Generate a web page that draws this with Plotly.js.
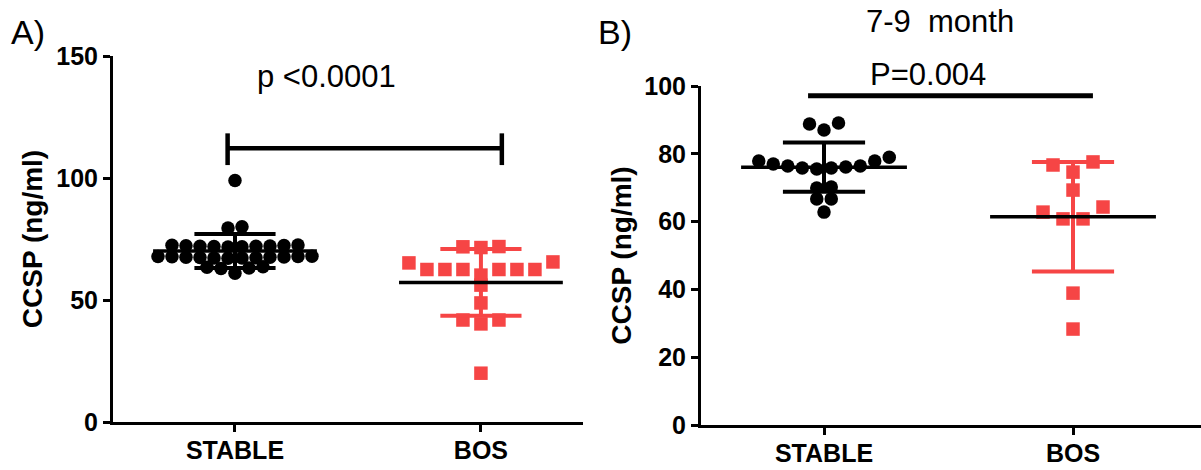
<!DOCTYPE html>
<html>
<head>
<meta charset="utf-8">
<script src="https://cdn.plot.ly/plotly-3.0.1.min.js"></script>
<style>html,body{margin:0;padding:0;background:#fff}#chart{width:1201px;height:470px}</style>
</head>
<body>
<div id="chart"></div>
<script>
// ---------------- data ----------------
const categories = ['STABLE', 'BOS'];
const yTicksA = [0, 50, 100, 150];
const yTicksB = [0, 20, 40, 60, 80, 100];

// Panel A: CCSP (ng/ml)
const stableA = [99, 80, 79.5,
  72.5, 72.0, 72.3, 71.8, 72.1, 72.4, 71.9, 72.2, 72.0, 71.7,
  67.8, 67.2, 67.5, 67.9, 67.4, 67.6, 67.1, 67.7, 67.3, 67.5, 67.8, 67.2,
  63.6, 63.4, 63.1, 62.9, 61.0];
const bosA = [71.9, 71.5, 71.8, 65.2, 62.5, 62.5, 62.5, 62.5, 62.5, 62.5, 60.2, 65.6,
  56.1, 48.8, 41.8, 40.2, 41.8, 20.0];

// Panel B: 7-9 month
const stableB = [88.8, 87.0, 89.1, 79.0, 75.8, 77.9, 76.4, 76.4, 75.5, 76.1, 75.8, 77.0, 77.9,
  69.9, 70.2, 66.7, 66.7, 62.8];
const bosB = [76.7, 74.6, 77.6, 69.3, 64.3, 62.8, 60.8, 60.8, 38.9, 28.3];

const pTextA = 'p <0.0001';
const pTextB = 'P=0.004';
const titleB = '7-9\u00a0 month';

// ---------------- geometry / style ----------------
const W = 1201, H = 470;
const geoA = {x0: 113, x1: 583, yTop: 56, yBot: 422, xr: [-0.496, 1.415], yr: [0, 150]};
const geoB = {x0: 701, x1: 1201, yTop: 86, yBot: 425, xr: [-0.494, 1.514], yr: [0, 100]};
const RED = '#f64545';
const FONT = 'Arial, "Liberation Sans", Helvetica, sans-serif';

function pxX(g) { return (g.x1 - g.x0) / (g.xr[1] - g.xr[0]); }
function pxY(g) { return (g.yBot - g.yTop) / (g.yr[1] - g.yr[0]); }

// Prism-like scatter: group values into rows (gap threshold in px), spread each row centred,
// lowest values in the middle, highest at the ends.
function scatterX(values, cat, g, spacing) {
  const py = pxY(g), px = pxX(g);
  const idx = values.map((v, i) => i).sort((a, b) => values[b] - values[a]);
  const rows = [];
  let cur = [];
  for (let k = 0; k < idx.length; k++) {
    if (k > 0 && (values[idx[k - 1]] - values[idx[k]]) * py > 8) { rows.push(cur); cur = []; }
    cur.push(idx[k]);
  }
  if (cur.length) rows.push(cur);
  const xs = new Array(values.length);
  rows.forEach(r => {
    const asc = r.slice().sort((a, b) => values[a] - values[b]);
    const n = asc.length;
    const slots = [];
    if (n % 2 === 1) { slots.push(0); for (let j = 1; slots.length < n; j++) { slots.push(-j); if (slots.length < n) slots.push(j); } }
    else { for (let j = 0; slots.length < n; j++) { slots.push(-(j + 0.5)); slots.push(j + 0.5); } }
    asc.forEach((i, k) => { xs[i] = cat + slots[k] * spacing / px; });
  });
  return xs;
}

function stats(v) {
  const m = v.reduce((a, b) => a + b, 0) / v.length;
  const sd = Math.sqrt(v.reduce((a, b) => a + (b - m) * (b - m), 0) / (v.length - 1));
  return {m, sd};
}

function pointsTrace(values, cat, g, spacing, symbol, color, xa, ya, name) {
  return {type: 'scatter', mode: 'markers', name: name, x: scatterX(values, cat, g, spacing), y: values,
    xaxis: xa, yaxis: ya, cliponaxis: false,
    marker: {symbol: symbol, size: 13.5, color: color, line: {width: 0}}, hoverinfo: 'y'};
}

function sdTrace(values, cat, color, xa, ya) {
  const s = stats(values), h = 0.165;
  const lo = s.m - s.sd, hi = s.m + s.sd;
  return {type: 'scatter', mode: 'lines', x: [cat, cat, null, cat - h, cat + h, null, cat - h, cat + h],
    y: [lo, hi, null, hi, hi, null, lo, lo], xaxis: xa, yaxis: ya, cliponaxis: false,
    line: {color: color, width: 4}, hoverinfo: 'skip'};
}

function meanTrace(values, cat, xa, ya) {
  const s = stats(values), h = 0.333;
  return {type: 'scatter', mode: 'lines', x: [cat - h, cat + h], y: [s.m, s.m], xaxis: xa, yaxis: ya,
    cliponaxis: false, line: {color: '#000', width: 3.5}, hoverinfo: 'skip'};
}

// significance brackets (annotation marks)
const bracketA = {x0: -0.03, x1: 1.085, y: 112.2, lo: 105.3, hi: 118.3};
const bracketB = {x0: -0.064, x1: 1.08, y: 97.1};

const traces = [
  pointsTrace(stableA, 0, geoA, 14, 'circle', '#000', 'x', 'y', 'STABLE'),
  pointsTrace(bosA, 1, geoA, 18, 'square', RED, 'x', 'y', 'BOS'),
  sdTrace(stableA, 0, '#000', 'x', 'y'),
  sdTrace(bosA, 1, RED, 'x', 'y'),
  meanTrace(stableA, 0, 'x', 'y'),
  meanTrace(bosA, 1, 'x', 'y'),
  {type: 'scatter', mode: 'lines', xaxis: 'x', yaxis: 'y', cliponaxis: false, hoverinfo: 'skip',
    x: [bracketA.x0, bracketA.x0, null, bracketA.x0, bracketA.x1, null, bracketA.x1, bracketA.x1],
    y: [bracketA.lo, bracketA.hi, null, bracketA.y, bracketA.y, null, bracketA.lo, bracketA.hi],
    line: {color: '#000', width: 4.5}},

  pointsTrace(stableB, 0, geoB, 14.5, 'circle', '#000', 'x2', 'y2', 'STABLE'),
  pointsTrace(bosB, 1, geoB, 20, 'square', RED, 'x2', 'y2', 'BOS'),
  sdTrace(stableB, 0, '#000', 'x2', 'y2'),
  sdTrace(bosB, 1, RED, 'x2', 'y2'),
  meanTrace(stableB, 0, 'x2', 'y2'),
  meanTrace(bosB, 1, 'x2', 'y2'),
  {type: 'scatter', mode: 'lines', xaxis: 'x2', yaxis: 'y2', cliponaxis: false, hoverinfo: 'skip',
    x: [bracketB.x0, bracketB.x1], y: [bracketB.y, bracketB.y], line: {color: '#000', width: 5}}
];

function xAxis(g, anchor) {
  return {domain: [g.x0 / W, g.x1 / W], range: g.xr, anchor: anchor, tickmode: 'array', tickvals: [0, 1],
    ticktext: categories, ticks: 'outside', ticklen: 7, tickwidth: 3, tickcolor: '#000',
    showline: true, linewidth: 3, linecolor: '#000', showgrid: false, zeroline: false,
    ticklabelstandoff: -3,
    tickfont: {family: FONT, size: 25, weight: 'bold', color: '#000'}, fixedrange: true};
}
function yAxis(g, anchor, ticks, standoff) {
  return {domain: [(H - g.yBot) / H, (H - g.yTop) / H], range: g.yr, anchor: anchor, tickmode: 'array',
    tickvals: ticks, ticks: 'outside', ticklen: 7, tickwidth: 3, tickcolor: '#000',
    showline: true, linewidth: 3, linecolor: '#000', showgrid: false, zeroline: false,
    tickfont: {family: FONT, size: 25, weight: 'bold', color: '#000'},
    title: {text: 'CCSP (ng/ml)', standoff: standoff, font: {family: FONT, size: 28, weight: 'bold', color: '#000'}},
    automargin: false, fixedrange: true};
}

function note(text, xpx, ypx, size) {
  return {text: text, x: xpx / W, y: 1 - ypx / H, xref: 'paper', yref: 'paper', showarrow: false,
    xanchor: 'center', yanchor: 'middle', font: {family: FONT, size: size, color: '#000'}};
}

const layout = {
  width: W, height: H, margin: {l: 0, r: 0, t: 0, b: 0}, showlegend: false,
  paper_bgcolor: '#fff', plot_bgcolor: '#fff',
  xaxis: xAxis(geoA, 'y'), yaxis: yAxis(geoA, 'x', yTicksA, 6),
  xaxis2: xAxis(geoB, 'y2'), yaxis2: yAxis(geoB, 'x2', yTicksB, 5),
  annotations: [
    note('A)', 28, 32, 34),
    note('B)', 615, 32, 34),
    note(pTextA, 327, 77, 31),
    note(titleB, 940, 21, 31),
    note(pTextB, 928, 75, 31)
  ]
};

Plotly.newPlot('chart', traces, layout, {staticPlot: true, displayModeBar: false});
</script>
</body>
</html>
